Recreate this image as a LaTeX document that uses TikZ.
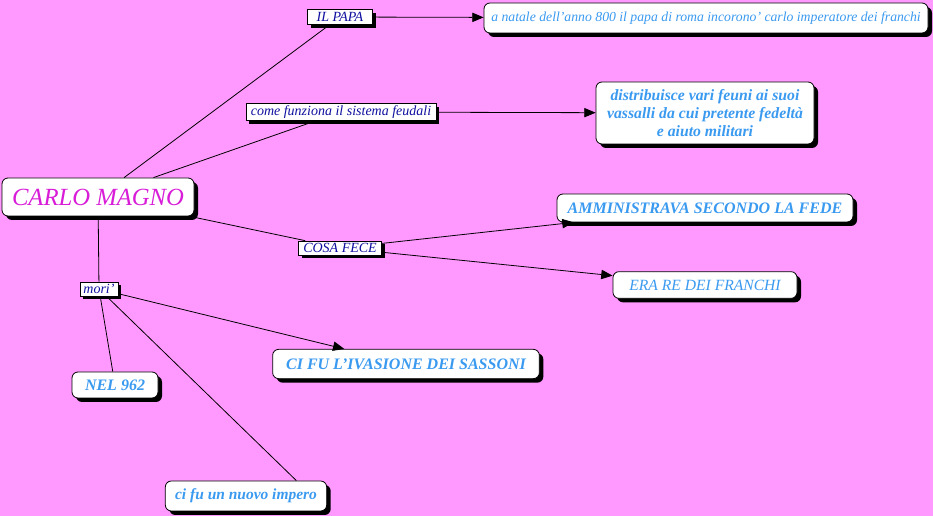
\documentclass[tikz,border=0pt]{standalone}
\usepackage{fontspec}
\setmainfont{Liberation Serif}
\usepackage{xcolor}
\usetikzlibrary{positioning}
\usetikzlibrary{shadows}
\usetikzlibrary{arrows.meta}

\definecolor{sfondo}{HTML}{FF99FF}
\definecolor{azzurro}{HTML}{3A9AF0}
\definecolor{magenta scuro}{HTML}{D81CD8}
\definecolor{blu link}{HTML}{1010A0}

\begin{document}
\begin{tikzpicture}[x=0.75pt, y=-0.75pt,
		concept/.style={draw, fill=white, rounded corners=4.5pt, line width=0.6pt, inner sep=2pt, align=center, text=azzurro, font=\itshape\fontsize{10.5}{12.5}\selectfont, drop shadow={shadow xshift=3pt, shadow yshift=-3pt, fill=black, opacity=1}},
		bold concept/.style={concept, font=\itshape\bfseries\fontsize{12}{14}\selectfont},
		link/.style={draw, fill=white, line width=0.5pt, inner sep=1pt, text=blu link, font=\itshape\fontsize{10.5}{11}\selectfont, drop shadow={shadow xshift=2.5pt, shadow yshift=-2.5pt, fill=black, opacity=1}},
		edge/.style={black, line width=0.6pt},
		arrow edge/.style={black, line width=0.6pt, -{Triangle[length=8.5pt, width=7pt]}}
		]
		\useasboundingbox (0,0) rectangle (933,516);
		\fill[sfondo] (0,0) rectangle (933,516);
		
		\node[concept, minimum width=144pt, minimum height=28.5pt, text=magenta scuro, font=\itshape\fontsize{18.5}{20}\selectfont] (carlo) at (98,197) {CARLO MAGNO};
		
		\node[link, minimum width=49pt, minimum height=11pt] (papa) at (340,17) {IL PAPA};
		\node[link, minimum width=142.5pt, minimum height=12.75pt] (funziona) at (341,112) {come funziona il sistema feudali};
		\node[link, minimum width=62pt, minimum height=10.5pt] (fece) at (340,248) {COSA FECE};
		\node[link, minimum width=28.5pt, minimum height=10.5pt] (mori) at (99,289) {mori'};
		
		\node[concept, minimum width=333pt, minimum height=22.5pt, font=\itshape\fontsize{10.3}{12}\selectfont] (natale) at (706,18) {a natale dell'anno 800 il papa di roma incorono' carlo imperatore dei franchi};
		\node[bold concept, minimum width=163.5pt, minimum height=46.5pt, font=\itshape\bfseries\fontsize{11.8}{13.5}\selectfont] (feudi) at (705,113) {distribuisce vari feuni ai suoi\\vassalli da cui pretente fedeltà\\e aiuto militari};
		\node[bold concept, minimum width=222pt, minimum height=21pt] (fede) at (705,208) {AMMINISTRAVA SECONDO LA FEDE};
		\node[concept, minimum width=138pt, minimum height=20pt, font=\itshape\fontsize{11.7}{13}\selectfont] (franchi) at (705,285) {ERA RE DEI FRANCHI};
		\node[bold concept, minimum width=64.5pt, minimum height=19.5pt] (anno) at (115,385) {NEL 962};
		\node[bold concept, minimum width=200pt, minimum height=22pt] (sassoni) at (406,364) {CI FU L'IVASIONE DEI SASSONI};
		\node[bold concept, minimum width=121pt, minimum height=22.5pt, font=\itshape\bfseries\fontsize{11.6}{13}\selectfont] (impero) at (246,496) {ci fu un nuovo impero};
		
		\draw[edge] (carlo) -- (papa);
		\draw[edge] (carlo) -- (funziona);
		\draw[edge] (carlo) -- (fece);
		\draw[edge] (carlo) -- (mori);
		\draw[arrow edge] (papa) -- (natale);
		\draw[arrow edge] (funziona) -- (feudi);
		\draw[arrow edge] (fece) -- (fede);
		\draw[arrow edge] (fece) -- (franchi);
		\draw[arrow edge] (mori) -- (sassoni);
		\draw[edge] (mori) -- (anno);
		\draw[edge] (mori) -- (impero.17);
	\end{tikzpicture}
\end{document}
